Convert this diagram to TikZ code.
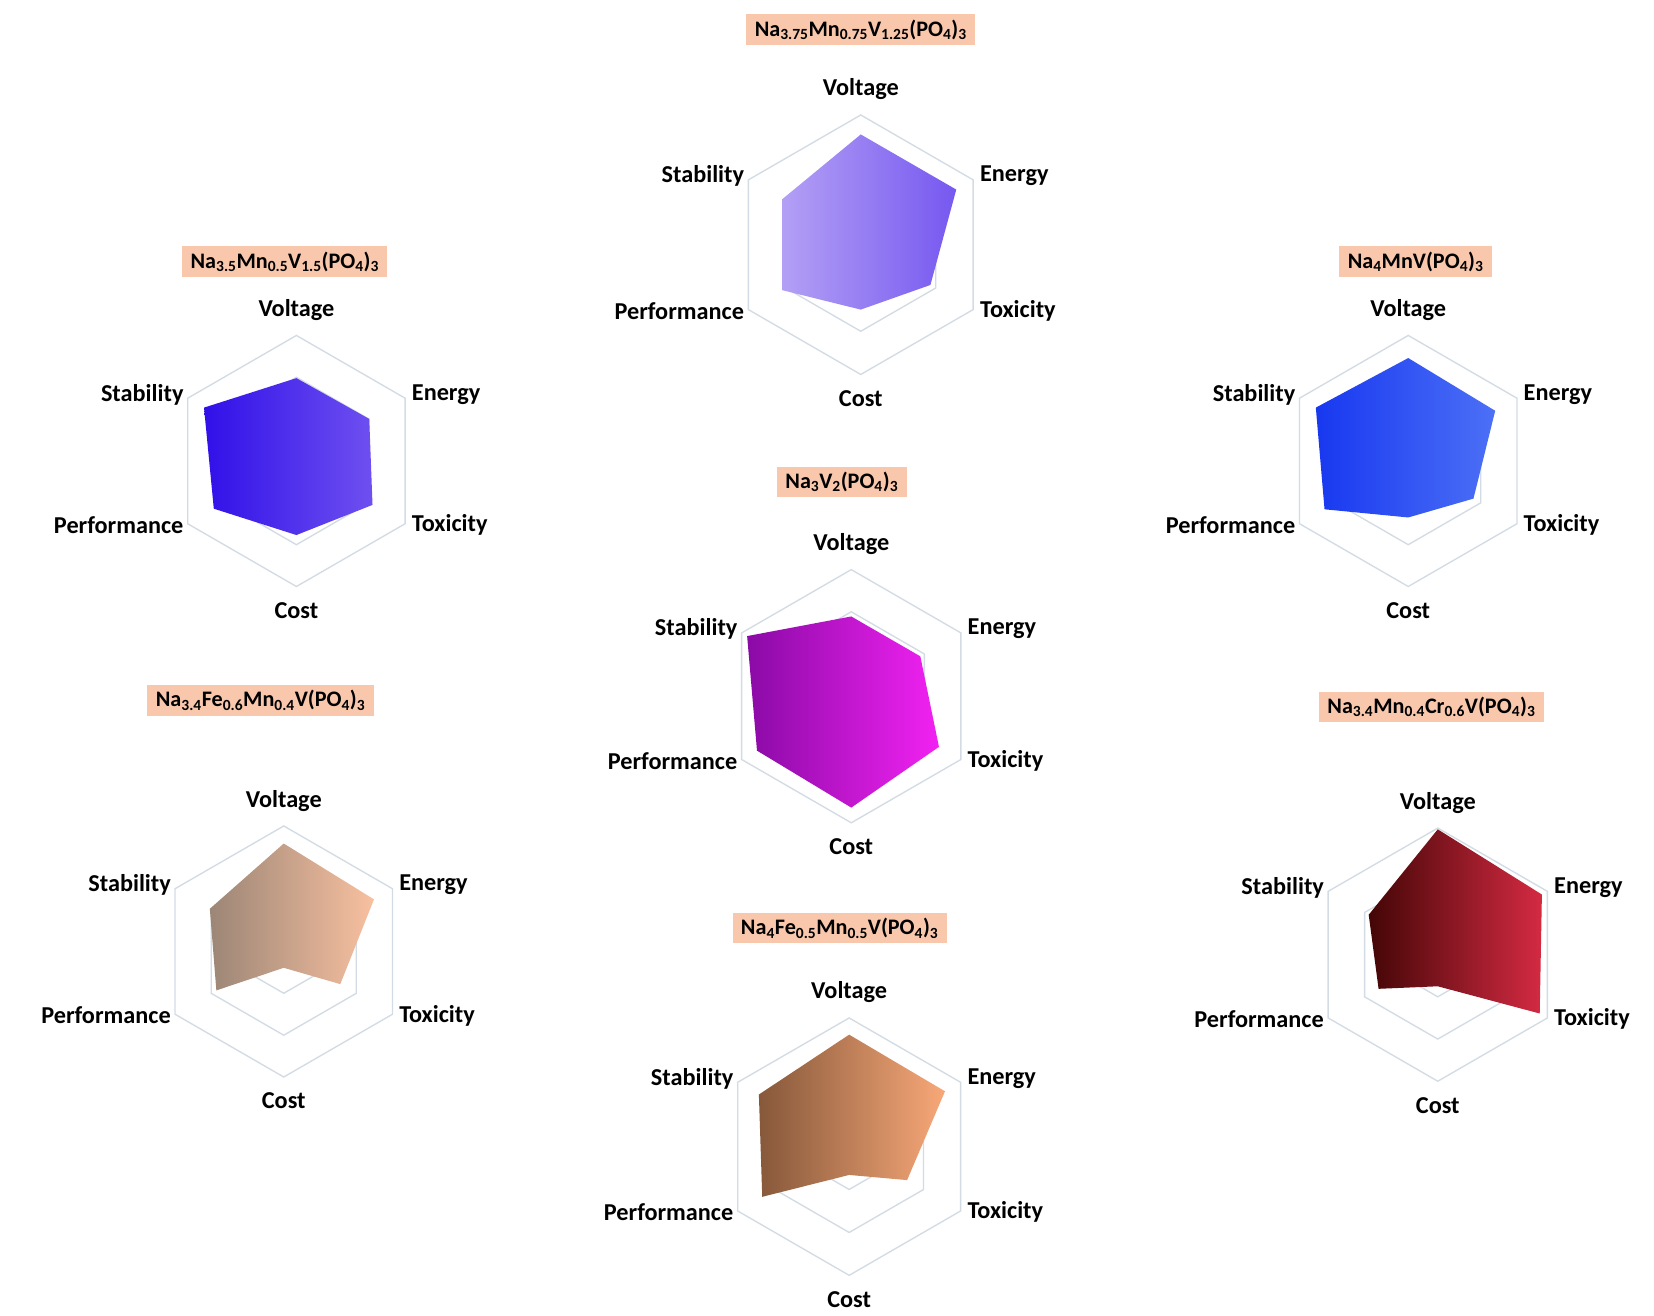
\documentclass[tikz,border=0pt]{standalone}
\usepackage{fontspec}
\setmainfont{Carlito}
\definecolor{gridc}{HTML}{D3DCE4}
\definecolor{titlebg}{HTML}{F9C8AC}
\newcommand{\radar}[9]{%
 \begin{scope}[shift={(#1,#2)}]
  \foreach \f in {1,0.667,0.333}{
   \draw[gridc,line width=1.3pt] (0,{-#3*\f})
     \foreach \a in {30,-30,-90,-150,150}{ -- ({#3*\f*cos(\a)},{-#3*\f*sin(\a)})} -- cycle;}
  \shade[left color=cL,right color=cR]
    (0,{-#3*#4})
    -- ({#3*#5*cos(30)},{-#3*#5*sin(30)})
    -- ({#3*#6*cos(-30)},{-#3*#6*sin(-30)})
    -- (0,{#3*#7})
    -- ({#3*#8*cos(210)},{-#3*#8*sin(210)})
    -- ({#3*#9*cos(150)},{-#3*#9*sin(150)}) -- cycle;
  \node[lab] at (0,{-1.2*#3}) {Voltage};
  \node[lab] at (0,{1.19*#3}) {Cost};
  \node[lab,anchor=west] at ({0.91*#3},{-0.53*#3}) {Energy};
  \node[lab,anchor=west] at ({0.91*#3},{0.51*#3}) {Toxicity};
  \node[lab,anchor=east] at ({-0.89*#3},{-0.53*#3}) {Stability};
  \node[lab,anchor=east] at ({-0.89*#3},{0.51*#3}) {Performance};
 \end{scope}}
\newcommand{\sub}[1]{\textsubscript{#1}}
\begin{document}
\begin{tikzpicture}[x=1pt,y=-1pt,
  lab/.style={font=\fontsize{23}{27}\selectfont\bfseries,inner sep=1pt},
  ttl/.style={fill=titlebg,font=\fontsize{21}{25}\selectfont\bfseries,inner xsep=8pt,inner ysep=5pt}]
\useasboundingbox[fill=white] (0,0) rectangle (1568,1247);
% 1 top
\definecolor{cL}{HTML}{B3A0F5}\definecolor{cR}{HTML}{7658F0}
\radar{816}{232}{123}{0.85}{0.85}{0.62}{0.5}{0.7}{0.7}
\node[ttl] (t1) at (816,28) {Na\sub{3.75}Mn\sub{0.75}V\sub{1.25}(PO\sub{4})\sub{3}};
% 2 left top
\definecolor{cL}{HTML}{3010E8}\definecolor{cR}{HTML}{6E50F0}
\radar{281}{437}{119}{0.66}{0.67}{0.7}{0.59}{0.76}{0.85}
\node[ttl] (t2) at (270,248) {Na\sub{3.5}Mn\sub{0.5}V\sub{1.5}(PO\sub{4})\sub{3}};
% 3 right top
\definecolor{cL}{HTML}{1838F0}\definecolor{cR}{HTML}{4C70F6}
\radar{1335}{437}{119}{0.82}{0.8}{0.6}{0.45}{0.77}{0.85}
\node[ttl] (t3) at (1342,248) {Na\sub{4}MnV(PO\sub{4})\sub{3}};
% 4 middle
\definecolor{cL}{HTML}{8A0AA6}\definecolor{cR}{HTML}{F222F2}
\radar{807}{660}{120}{0.63}{0.63}{0.8}{0.88}{0.86}{0.95}
\node[ttl] (t4) at (798,457) {Na\sub{3}V\sub{2}(PO\sub{4})\sub{3}};
% 5 left bottom
\definecolor{cL}{HTML}{9C8676}\definecolor{cR}{HTML}{F8C0A0}
\radar{269}{902}{119}{0.86}{0.83}{0.52}{0.13}{0.62}{0.68}
\node[ttl] (t5) at (247,664) {Na\sub{3.4}Fe\sub{0.6}Mn\sub{0.4}V(PO\sub{4})\sub{3}};
% 6 bottom
\definecolor{cL}{HTML}{86583A}\definecolor{cR}{HTML}{F8A878}
\radar{805}{1087}{122}{0.87}{0.86}{0.52}{0.22}{0.78}{0.81}
\node[ttl] (t6) at (796,880) {Na\sub{4}Fe\sub{0.5}Mn\sub{0.5}V(PO\sub{4})\sub{3}};
% 7 right bottom
\definecolor{cL}{HTML}{440606}\definecolor{cR}{HTML}{D42A42}
\radar{1363}{905}{120}{0.99}{0.95}{0.93}{0.25}{0.54}{0.63}
\node[ttl] (t7) at (1357,670) {Na\sub{3.4}Mn\sub{0.4}Cr\sub{0.6}V(PO\sub{4})\sub{3}};
\end{tikzpicture}
\end{document}
